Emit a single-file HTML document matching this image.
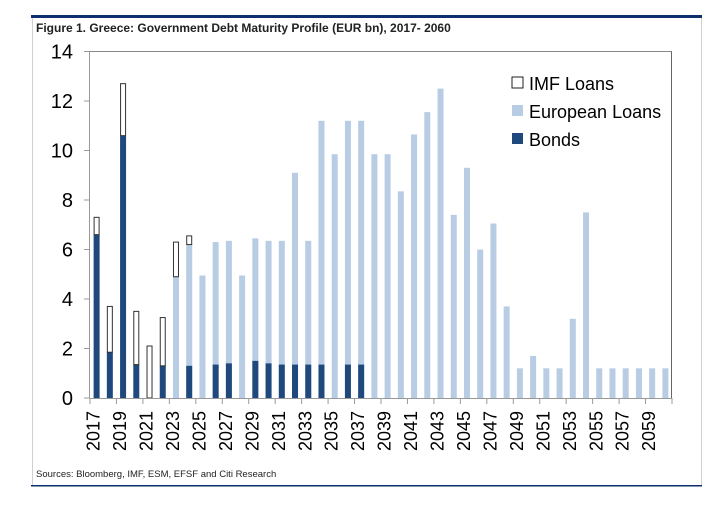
<!DOCTYPE html>
<html><head><meta charset="utf-8"><style>
html,body{margin:0;padding:0;background:#fff;}
svg{display:block;font-family:"Liberation Sans",Arial,sans-serif;}
</style></head><body>
<svg id="s" width="722" height="514" viewBox="0 0 722 514" xmlns="http://www.w3.org/2000/svg">
<rect x="0" y="0" width="722" height="514" fill="#fff"/>
<rect x="31" y="15" width="671" height="3" fill="#0d2f6e"/>
<line x1="32.5" y1="18" x2="32.5" y2="486" stroke="#d0d0d0"/>
<line x1="701.5" y1="18" x2="701.5" y2="486" stroke="#d0d0d0"/>
<rect x="31" y="485" width="671" height="1.5" fill="#0d2f6e"/>
<text x="36" y="32" font-size="12" font-weight="bold" fill="#222">Figure 1. Greece: Government Debt Maturity Profile (EUR bn), 2017- 2060</text>
<text x="36" y="477" font-size="9.5" fill="#222">Sources: Bloomberg, IMF, ESM, EFSF and Citi Research</text>
<g id="g"></g>
<rect x="512" y="77" width="11" height="11" fill="#fff" stroke="#222" stroke-width="1"/>
<rect x="512" y="105" width="11" height="11" fill="#b8cce4"/>
<rect x="512" y="133" width="11" height="11" fill="#1f497d"/>
<text x="529" y="90" font-size="18" fill="#000">IMF Loans</text>
<text x="529" y="118" font-size="18" fill="#000">European Loans</text>
<text x="529" y="146" font-size="18" fill="#000">Bonds</text>
</svg>
<script>
var d=[[6.6,0,7.3],[1.85,0,3.7],[10.6,0,12.7],[1.35,0,3.5],[0,0,2.1],[1.3,0,3.25],[0,4.9,6.3],[1.3,6.2,6.55],[0,4.95,0],[1.35,6.3,0],[1.4,6.35,0],[0,4.95,0],[1.5,6.45,0],[1.4,6.35,0],[1.35,6.35,0],[1.35,9.1,0],[1.35,6.35,0],[1.35,11.2,0],[0,9.85,0],[1.35,11.2,0],[1.35,11.2,0],[0,9.85,0],[0,9.85,0],[0,8.35,0],[0,10.65,0],[0,11.55,0],[0,12.5,0],[0,7.4,0],[0,9.3,0],[0,6.0,0],[0,7.05,0],[0,3.7,0],[0,1.2,0],[0,1.7,0],[0,1.2,0],[0,1.2,0],[0,3.2,0],[0,7.5,0],[0,1.2,0],[0,1.2,0],[0,1.2,0],[0,1.2,0],[0,1.2,0],[0,1.2,0]];
var L=90,R=672,Y0=398,K=24.75,n=44,w=(R-L)/n,h='';
function y(v){return Y0-v*K;}
h+='<line x1="'+L+'" y1="51.5" x2="'+R+'" y2="51.5" stroke="#888"/>';
h+='<line x1="'+(R-0.5)+'" y1="51.5" x2="'+(R-0.5)+'" y2="'+Y0+'" stroke="#666"/>';
for(var i=0;i<n;i++){var c=L+(i+0.5)*w,x=c-3,b=d[i][0],e=d[i][1],m=d[i][2];
 if(e>0)h+='<rect x="'+x+'" y="'+y(e)+'" width="6" height="'+(Y0-y(e))+'" fill="#b8cce4"/>';
 if(b>0)h+='<rect x="'+x+'" y="'+y(b)+'" width="6" height="'+(Y0-y(b))+'" fill="#1f497d"/>';
 if(m>0){var base=Math.max(b,e);h+='<rect x="'+(x+0.5)+'" y="'+y(m)+'" width="5" height="'+(y(base)-y(m))+'" fill="#fff" stroke="#333" stroke-width="1"/>';}
}
h+='<line x1="'+(L-0.5)+'" y1="51.5" x2="'+(L-0.5)+'" y2="'+Y0+'" stroke="#999"/>';
h+='<line x1="'+L+'" y1="'+(Y0+0.5)+'" x2="'+R+'" y2="'+(Y0+0.5)+'" stroke="#999"/>';
for(var v=0;v<=14;v+=2){var yy=y(v);h+='<line x1="'+(L-6)+'" y1="'+yy+'" x2="'+L+'" y2="'+yy+'" stroke="#999"/>';
 h+='<text x="73" y="'+(yy+7)+'" font-size="20" text-anchor="end" fill="#000">'+v+'</text>';}
for(var i=0;i<=n;i+=2){var tx=L+i*w;h+='<line x1="'+tx+'" y1="'+Y0+'" x2="'+tx+'" y2="'+(Y0+6)+'" stroke="#999"/>';}
for(var i=0;i<n;i+=2){var c=L+(i+0.5)*w+3;h+='<text transform="translate('+c+',411) rotate(-90)" font-size="18" text-anchor="end" fill="#000">'+(2017+i)+'</text>';}
document.getElementById('g').innerHTML=h;
</script>
</body></html>
